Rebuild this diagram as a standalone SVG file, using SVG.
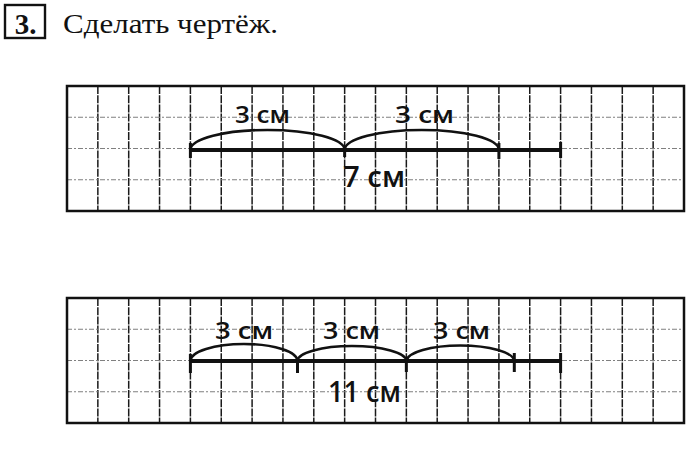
<svg xmlns="http://www.w3.org/2000/svg" width="700" height="449" viewBox="0 0 700 449">
<defs>
<style>
.bg{fill:#fff}
.border{fill:none;stroke:#111;stroke-width:2.5}
.vl{stroke:#1a1a1a;stroke-width:1.5;stroke-dasharray:8 1.2}
.hl{stroke:#808080;stroke-width:1.1;stroke-dasharray:5 2 2 2}
.seg{stroke:#111;stroke-width:4;fill:none}
.tick{stroke:#111;stroke-width:3}
.arc{stroke:#111;stroke-width:2.6;fill:none}
.lbl{font-family:"Open Sans","DejaVu Sans",sans-serif;font-weight:600;fill:#111}
.title{font-family:"Liberation Serif",serif;fill:#111}
</style>
<g id="vgrid">
<line class="vl" x1="97.85" y1="0" x2="97.85" y2="125"/>
<line class="vl" x1="128.7" y1="0" x2="128.7" y2="125"/>
<line class="vl" x1="159.55" y1="0" x2="159.55" y2="125"/>
<line class="vl" x1="190.4" y1="0" x2="190.4" y2="125"/>
<line class="vl" x1="221.25" y1="0" x2="221.25" y2="125"/>
<line class="vl" x1="252.1" y1="0" x2="252.1" y2="125"/>
<line class="vl" x1="282.95" y1="0" x2="282.95" y2="125"/>
<line class="vl" x1="313.8" y1="0" x2="313.8" y2="125"/>
<line class="vl" x1="344.65" y1="0" x2="344.65" y2="125"/>
<line class="vl" x1="375.5" y1="0" x2="375.5" y2="125"/>
<line class="vl" x1="406.35" y1="0" x2="406.35" y2="125"/>
<line class="vl" x1="437.2" y1="0" x2="437.2" y2="125"/>
<line class="vl" x1="468.05" y1="0" x2="468.05" y2="125"/>
<line class="vl" x1="498.9" y1="0" x2="498.9" y2="125"/>
<line class="vl" x1="529.75" y1="0" x2="529.75" y2="125"/>
<line class="vl" x1="560.6" y1="0" x2="560.6" y2="125"/>
<line class="vl" x1="591.45" y1="0" x2="591.45" y2="125"/>
<line class="vl" x1="622.3" y1="0" x2="622.3" y2="125"/>
<line class="vl" x1="653.15" y1="0" x2="653.15" y2="125"/>
<line class="hl" x1="67" y1="31.25" x2="684" y2="31.25"/>
<line class="hl" x1="67" y1="62.5" x2="684" y2="62.5"/>
<line class="hl" x1="67" y1="93.75" x2="684" y2="93.75"/>
<rect class="border" x="67" y="0" width="617" height="125"/>
</g>
</defs>

<g id="title">
<rect x="5" y="5" width="40" height="33" fill="none" stroke="#111" stroke-width="2.4"/>
<text class="title" x="25.5" y="33.5" font-size="29" font-weight="bold" text-anchor="middle">3.</text>
<text class="title" x="63" y="33" font-size="28" textLength="215" lengthAdjust="spacingAndGlyphs">Сделать чертёж.</text>
</g>

<g id="grid-top">
<rect class="bg" x="67" y="86" width="617" height="125"/>
<use href="#vgrid" x="0" y="86"/>
</g>

<g id="grid-bottom">
<rect class="bg" x="67" y="298" width="617" height="125"/>
<use href="#vgrid" x="0" y="298"/>
</g>

<g id="connectors">
<line class="seg" x1="190.4" y1="150" x2="560.6" y2="150"/>
<line class="tick" x1="190.4" y1="143" x2="190.4" y2="158"/>
<line class="tick" x1="344.65" y1="146" x2="344.65" y2="157"/>
<line class="tick" x1="498.9" y1="143" x2="498.9" y2="159"/>
<line class="tick" x1="560.6" y1="142" x2="560.6" y2="158"/>
<path class="arc" d="M190.4 150 A77 20 0 0 1 344.65 150"/>
<path class="arc" d="M344.65 150 A77 20 0 0 1 498.9 150"/>
<line class="seg" x1="190.4" y1="361" x2="560.6" y2="361"/>
<line class="tick" x1="190.4" y1="354" x2="190.4" y2="373"/>
<line class="tick" x1="297.5" y1="359" x2="297.5" y2="373"/>
<line class="tick" x1="406.35" y1="358" x2="406.35" y2="372"/>
<line class="tick" x1="514.3" y1="353" x2="514.3" y2="372"/>
<line class="tick" x1="560.6" y1="353" x2="560.6" y2="373"/>
<path class="arc" d="M190.4 361 A53.5 17 0 0 1 297.5 361"/>
<path class="arc" d="M297.5 361 A54.4 15 0 0 1 406.35 361"/>
<path class="arc" d="M406.35 361 A54 16 0 0 1 514.3 361"/>
</g>

<g id="labels">
<text class="lbl" x="235" y="122.5" font-size="23" textLength="55" lengthAdjust="spacingAndGlyphs">3 см</text>
<text class="lbl" x="395" y="122.5" font-size="23" textLength="59" lengthAdjust="spacingAndGlyphs">3 см</text>
<text class="lbl" x="343" y="187" font-size="29" textLength="62" lengthAdjust="spacingAndGlyphs">7 см</text>
<text class="lbl" x="215" y="338.5" font-size="24" textLength="58" lengthAdjust="spacingAndGlyphs">3 см</text>
<text class="lbl" x="323" y="338.5" font-size="24" textLength="57" lengthAdjust="spacingAndGlyphs">3 см</text>
<text class="lbl" x="433" y="338.5" font-size="24" textLength="57" lengthAdjust="spacingAndGlyphs">3 см</text>
<text class="lbl" x="328" y="402" font-size="28" textLength="73" lengthAdjust="spacingAndGlyphs">11 см</text>
</g>
</svg>
